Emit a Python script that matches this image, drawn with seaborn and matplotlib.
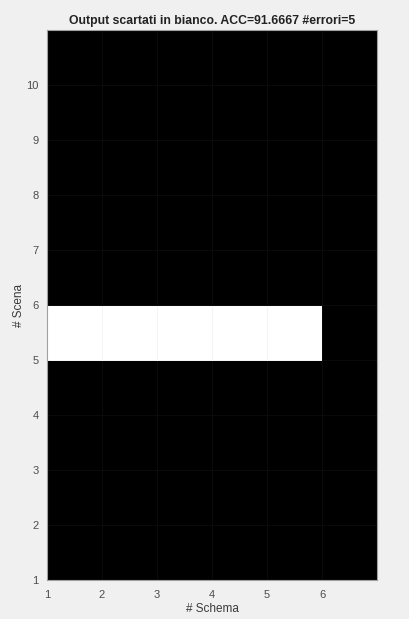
import numpy as np
import pandas as pd
import matplotlib
matplotlib.use('Agg')
import matplotlib.pyplot as plt
import seaborn as sns
from matplotlib.colors import ListedColormap

# Data: schemi (columns) and scene (rows), cells with errors drawn white
schemi = [1, 2, 3, 4, 5, 6]
scene = [1, 2, 3, 4, 5, 6, 7, 8, 9, 10]
err_scena = [5, 5, 5, 5, 5]
err_schema = [1, 2, 3, 4, 5]

mat = pd.DataFrame(0, index=scene, columns=schemi)
for s, c in zip(err_scena, err_schema):
    mat.loc[s, c] = 1

plt.rcParams['font.family'] = ['Liberation Sans', 'DejaVu Sans']

fig = plt.figure(figsize=(4.09, 6.19), dpi=100, facecolor='#f0f0f0')
ax = fig.add_axes([0.115, 0.063, 0.807, 0.8885])

sns.heatmap(mat, ax=ax, cmap=ListedColormap(['black', 'white']), vmin=0, vmax=1,
            cbar=False, linewidths=0.6, linecolor=(0.5, 0.5, 0.5, 0.08),
            xticklabels=False, yticklabels=False)

ax.invert_yaxis()
ax.set_xticks(range(len(schemi)))
ax.set_xticklabels([str(v) for v in schemi])
ax.set_yticks(range(len(scene)))
ax.set_yticklabels([str(v) for v in scene], rotation=0)
ax.tick_params(axis='both', colors='#4d4d4d', labelsize=8, length=0, pad=6)
ax.tick_params(axis='x', pad=7)

for sp in ax.spines.values():
    sp.set_visible(True)
    sp.set_color('#a0a0a0')
    sp.set_linewidth(0.8)

ax.set_xlabel('# Schema', fontsize=8.5, color='#3a3a3a', labelpad=2)
ax.set_ylabel('# Scena', fontsize=8.5, color='#3a3a3a', labelpad=1)
ax.set_title('Output scartati in bianco. ACC=91.6667 #errori=5',
             fontsize=8.8, fontweight='bold', color='#222222', pad=4)

fig.savefig('out.png', dpi=100, facecolor=fig.get_facecolor())
